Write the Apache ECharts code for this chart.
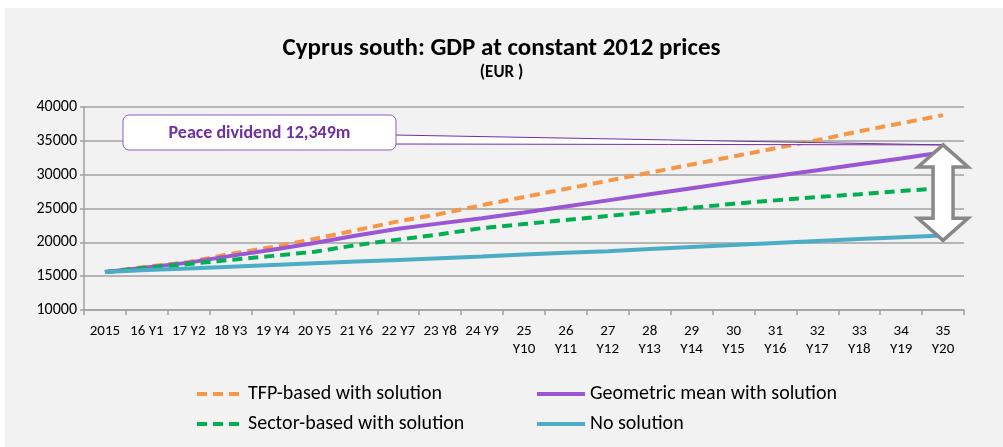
<!DOCTYPE html>
<html>
<head>
<meta charset="utf-8">
<script src="https://cdn.jsdelivr.net/npm/echarts@6/dist/echarts.min.js"></script>
<style>
  html, body { margin: 0; padding: 0; background: #ffffff; }
  #panel { position: absolute; left: 5px; top: 8px; width: 998px; height: 439px; background: #f2f2f2; }
  #chart { position: absolute; left: 0; top: 0; width: 1003px; height: 447px; }
</style>
</head>
<body>
<div id="panel"></div>
<div id="chart"></div>
<script>
const FONT = 'Carlito, "Liberation Sans Narrow", "Liberation Sans", sans-serif'

// categories
const years = ['2015', '16 Y1', '17 Y2', '18 Y3', '19 Y4', '20 Y5', '21 Y6', '22 Y7', '23 Y8', '24 Y9',
  '25\nY10', '26\nY11', '27\nY12', '28\nY13', '29\nY14', '30\nY15', '31\nY16', '32\nY17', '33\nY18', '34\nY19', '35\nY20']

// series values (EUR m, constant 2012 prices)
const tfpBased = [15600, 16400, 17100, 18300, 19300, 20500, 21800, 23100, 24200, 25500,
  26700, 27900, 29100, 30300, 31500, 32700, 33900, 35100, 36400, 37600, 38800]
const geometricMean = [15600, 16300, 17000, 18000, 18900, 19900, 21000, 22000, 22800, 23550,
  24400, 25300, 26200, 27100, 28000, 28900, 29800, 30650, 31550, 32400, 33300]
const sectorBased = [15600, 16200, 16800, 17400, 18000, 18600, 19600, 20400, 21200, 22100,
  22700, 23300, 23900, 24500, 25100, 25700, 26200, 26700, 27100, 27600, 28000]
const noSolution = [15600, 15900, 16150, 16400, 16650, 16900, 17150, 17400, 17650, 17900,
  18200, 18450, 18700, 19000, 19300, 19600, 19900, 20200, 20500, 20750, 21000]

// annotation
const calloutText = 'Peace dividend 12,349m'
const arrowTop = 34400
const arrowBottom = 20300

const chart = echarts.init(document.getElementById('chart'))

const lineSeries = (name, data, color, dashed) => ({
  name: name,
  type: 'line',
  data: data,
  symbol: 'none',
  smooth: false,
  itemStyle: { color: color },
  lineStyle: { color: color, width: 4, type: dashed ? [10, 6] : 'solid' },
  z: 3
})

const legendCommon = {
  orient: 'vertical',
  top: 379,
  itemGap: 10,
  itemHeight: 20,
  itemStyle: { opacity: 0 },
  lineStyle: { width: 4 },
  textStyle: { fontFamily: FONT, fontSize: 20, color: '#000' }
}

const option = {
  backgroundColor: 'transparent',
  animation: false,
  title: [
    {
      text: 'Cyprus south: GDP at constant 2012 prices',
      left: 'center',
      top: 31,
      textStyle: { fontFamily: FONT, fontSize: 25, fontWeight: 'bold', color: '#000' }
    },
    {
      text: '(EUR )',
      left: 'center',
      top: 59,
      textStyle: { fontFamily: FONT, fontSize: 17, fontWeight: 'bold', color: '#000' }
    }
  ],
  grid: { left: 84, right: 39, top: 107, bottom: 137 },
  legend: [
    Object.assign({}, legendCommon, {
      data: ['TFP-based with solution', 'Sector-based with solution'],
      left: 190,
      itemWidth: 46
    }),
    Object.assign({}, legendCommon, {
      data: ['Geometric mean with solution', 'No solution'],
      left: 530,
      itemWidth: 48
    })
  ],
  xAxis: {
    type: 'category',
    data: years,
    boundaryGap: true,
    axisLine: { lineStyle: { color: '#a0a0a0', width: 1.5 } },
    axisTick: { show: true, length: 5, lineStyle: { color: '#a0a0a0', width: 1.5 } },
    axisLabel: { interval: 0, margin: 12, fontFamily: FONT, fontSize: 15, lineHeight: 18, color: '#000' }
  },
  yAxis: {
    type: 'value',
    min: 10000,
    max: 40000,
    interval: 5000,
    axisLine: { show: true, lineStyle: { color: '#a0a0a0', width: 1.5 } },
    axisTick: { show: true, length: 4, lineStyle: { color: '#a0a0a0', width: 1.5 } },
    axisLabel: { margin: 7, fontFamily: FONT, fontSize: 16, color: '#000', formatter: v => String(v) },
    splitLine: { lineStyle: { color: '#a0a0a0', width: 1.5 } }
  },
  series: [
    lineSeries('TFP-based with solution', tfpBased, '#f79646', true),
    lineSeries('Geometric mean with solution', geometricMean, '#9b57d3', false),
    lineSeries('Sector-based with solution', sectorBased, '#00b050', true),
    lineSeries('No solution', noSolution, '#4bacc6', false)
  ]
}

chart.setOption(option)

// callout box and double arrow, anchored to the last category
const lastIdx = years.length - 1
const tipTop = chart.convertToPixel({ xAxisIndex: 0, yAxisIndex: 0 }, [lastIdx, arrowTop])
const tipBottom = chart.convertToPixel({ xAxisIndex: 0, yAxisIndex: 0 }, [lastIdx, arrowBottom])
const cx = tipTop[0]
const headW = 25
const shaftW = 10
const headH = 22

const box = { x: 123, y: 115, w: 273, h: 35 }

chart.setOption({
  graphic: [
    {
      type: 'polygon',
      z: 10,
      shape: { points: [[box.x + box.w - 2, 135], [cx, tipTop[1]], [box.x + box.w - 2, 144]] },
      style: { fill: '#ffffff', stroke: '#7030a0', lineWidth: 1 }
    },
    {
      type: 'rect',
      z: 11,
      shape: { x: box.x, y: box.y, width: box.w, height: box.h, r: 6 },
      style: { fill: '#ffffff', stroke: '#8a5cc0', lineWidth: 1 }
    },
    {
      type: 'text',
      z: 12,
      x: box.x + box.w / 2,
      y: box.y + box.h / 2 + 1,
      style: {
        text: calloutText,
        fontFamily: FONT,
        fontSize: 18,
        fontWeight: 'bold',
        fill: '#7030a0',
        align: 'center',
        verticalAlign: 'middle'
      }
    },
    {
      type: 'polygon',
      z: 12,
      shape: {
        points: [
          [cx, tipTop[1]],
          [cx + headW, tipTop[1] + headH],
          [cx + shaftW, tipTop[1] + headH],
          [cx + shaftW, tipBottom[1] - headH],
          [cx + headW, tipBottom[1] - headH],
          [cx, tipBottom[1]],
          [cx - headW, tipBottom[1] - headH],
          [cx - shaftW, tipBottom[1] - headH],
          [cx - shaftW, tipTop[1] + headH],
          [cx - headW, tipTop[1] + headH]
        ]
      },
      style: { fill: '#ffffff', stroke: '#888888', lineWidth: 3.5, lineJoin: 'miter' }
    }
  ]
})

window.addEventListener('resize', () => chart.resize())
</script>
</body>
</html>
